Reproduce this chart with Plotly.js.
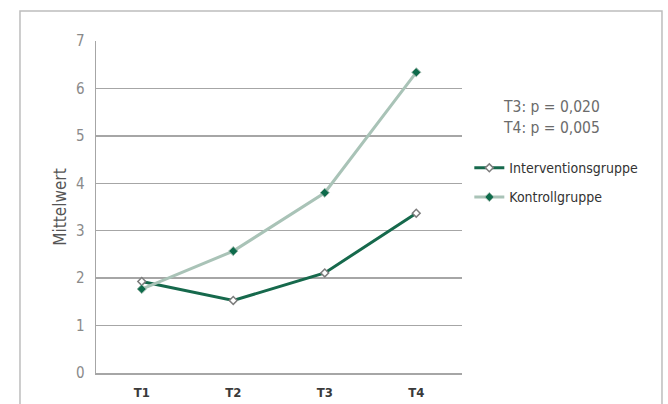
<!DOCTYPE html>
<html>
<head>
<meta charset="utf-8">
<script src="https://cdn.plot.ly/plotly-3.0.1.min.js"></script>
<style>
  html, body { margin: 0; padding: 0; background: #fff; }
  #chart { width: 668px; height: 404px; }
</style>
</head>
<body>
<div id="chart"></div>
<script>
// Messzeitpunkte
const zeitpunkte = ["T1", "T2", "T3", "T4"];
// Mittelwerte je Gruppe
const interventionsgruppe = [1.93, 1.53, 2.11, 3.37];
const kontrollgruppe = [1.77, 2.57, 3.80, 6.34];
// Signifikanzangaben
const pWerte = ["T3: p = 0,020", "T4: p = 0,005"];
const pWertY = [5.61, 5.17];
const yTicks = [0, 1, 2, 3, 4, 5, 6, 7];

const FONT = "DejaVu Sans Condensed, DejaVu Sans, sans-serif";

const traces = [
  {
    x: zeitpunkte, y: interventionsgruppe, name: "Interventionsgruppe",
    type: "scatter", mode: "lines+markers", legendgroup: "a",
    line: { color: "#16694c", width: 3 },
    marker: { symbol: "diamond", size: 6, color: "#ffffff", line: { color: "#7d7d7d", width: 1.5 } }
  },
  {
    x: zeitpunkte, y: kontrollgruppe, name: "Kontrollgruppe",
    type: "scatter", mode: "lines+markers", legendgroup: "b",
    line: { color: "#a9c3b7", width: 3 },
    marker: { symbol: "diamond", size: 7, color: "#0e6b4b", line: { color: "#9fb9ad", width: 1 } }
  }
];

const annotations = pWerte.map((t, i) => ({
  text: t, xref: "paper", yref: "y", x: 1.107, y: pWertY[i],
  xanchor: "left", yanchor: "middle", showarrow: false,
  font: { family: FONT, size: 15.5, color: "#6b6b6b" }
}));

const layout = {
  width: 668, height: 404,
  margin: { l: 96, r: 206, t: 41, b: 31 },
  paper_bgcolor: "#ffffff", plot_bgcolor: "#ffffff",
  showlegend: true,
  legend: {
    x: 1.02, xanchor: "left", y: 0.665, yanchor: "top",
    tracegroupgap: 8, bgcolor: "rgba(0,0,0,0)", itemwidth: 30,
    font: { family: FONT, size: 14, color: "#333333" }
  },
  xaxis: {
    type: "category", range: [-0.5, 3.5], fixedrange: true,
    showgrid: false, zeroline: false,
    showline: true, linecolor: "#a6a6a6", linewidth: 1.5,
    ticks: "", ticklabelstandoff: 7,
    tickfont: { family: FONT, size: 13, color: "#3a3a3a", weight: "bold" }
  },
  yaxis: {
    range: [0, 7], tickvals: yTicks, fixedrange: true,
    showgrid: true, gridcolor: "#a6a6a6", gridwidth: 1.5,
    zeroline: false, showline: true, linecolor: "#a6a6a6", linewidth: 1.5,
    ticks: "", ticklabelstandoff: 7,
    tickfont: { family: FONT, size: 15, color: "#8a8a8a" },
    title: { text: "Mittelwert", standoff: 5, font: { family: FONT, size: 17, color: "#555555" } }
  },
  annotations: annotations,
  shapes: [
    {
      type: "rect", xref: "paper", yref: "paper",
      x0: -0.2077, x1: 1.5464, y0: -0.2, y1: 1.0904,
      line: { color: "#bdbdbd", width: 1.5 }, fillcolor: "rgba(0,0,0,0)", layer: "below"
    }
  ]
};

Plotly.newPlot("chart", traces, layout, { displayModeBar: false, staticPlot: true });
</script>
</body>
</html>
